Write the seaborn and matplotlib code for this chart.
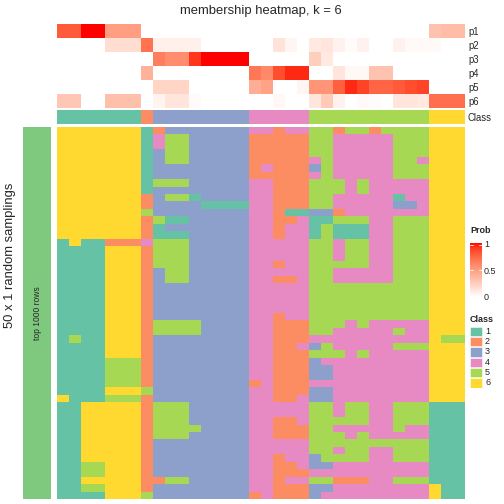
import numpy as np
import pandas as pd
import matplotlib
matplotlib.use("Agg")
import matplotlib.pyplot as plt
import seaborn as sns
from matplotlib.colors import ListedColormap
from matplotlib.patches import Rectangle

sns.set_theme(style="white")
plt.rcParams['font.family'] = ['Liberation Sans', 'DejaVu Sans']

# ---------------- data ----------------
title = "membership heatmap, k = 6"
prob_labels = ["p1", "p2", "p3", "p4", "p5", "p6"]
class_labels = ["1", "2", "3", "4", "5", "6"]
class_colors = ["#66C2A5", "#FC8D62", "#8DA0CB", "#E78AC3", "#A6D854", "#FFD92F"]

p1 = [0.8, 0.8, 1.0, 1.0, 0.5, 0.5, 0.5, 0, 0, 0, 0, 0, 0, 0, 0, 0, 0, 0, 0, 0, 0,
      0, 0, 0, 0, 0, 0, 0, 0, 0, 0, 0.32, 0.35, 0.35]
p2 = [0, 0, 0, 0, 0.18, 0.18, 0.18, 0.7, 0.08, 0.08, 0.08, 0.08, 0, 0, 0, 0, 0, 0, 0.15, 0.05, 0,
      0.12, 0.14, 0.07, 0.02, 0.07, 0, 0, 0.07, 0.03, 0.03, 0.03, 0, 0]
p3 = [0, 0, 0, 0, 0, 0, 0, 0, 0.65, 0.58, 0.58, 0.92, 1.0, 1.0, 1.0, 1.0, 0, 0, 0, 0, 0,
      0.25, 0.12, 0, 0, 0, 0, 0, 0, 0, 0, 0, 0, 0]
p4 = [0, 0, 0, 0, 0, 0, 0, 0.4, 0, 0, 0, 0, 0, 0, 0, 0, 0.68, 0.6, 0.85, 0.95, 0.95,
      0, 0, 0.14, 0.04, 0.04, 0.32, 0.32, 0, 0, 0, 0, 0, 0]
p5 = [0, 0, 0, 0, 0, 0, 0, 0, 0.22, 0.22, 0.22, 0, 0, 0, 0, 0, 0.42, 0.48, 0, 0, 0.05,
      0.55, 0.55, 0.78, 0.95, 0.88, 0.76, 0.76, 0.8, 0.85, 0.88, 0, 0, 0]
p6 = [0.3, 0.3, 0, 0, 0.33, 0.33, 0.33, 0, 0.06, 0.14, 0.14, 0.02, 0, 0, 0, 0, 0, 0, 0.04, 0, 0,
      0.13, 0.28, 0.07, 0, 0.03, 0.02, 0, 0.14, 0.14, 0.12, 0.72, 0.72, 0.72]

column_class = [1, 1, 1, 1, 1, 1, 1, 2, 3, 3, 3, 3, 3, 3, 3, 3, 4, 4, 4, 4, 4,
                5, 5, 5, 5, 5, 5, 5, 5, 5, 5, 6, 6, 6]

sampling_rows = [
    "6666666 1 23333333 44244 5525525555 666",
    "6666666 1 45533333 22222 5544444555 666",
    "6666666 1 45533333 22222 5544444555 666",
    "6666666 1 35533333 22222 5544444555 666",
    "6666666 1 35533333 22222 4544444554 666",
    "6666666 1 33333333 24222 3544444555 666",
    "6666666 1 33333333 22222 4544444555 666",
    "6666666 1 55533333 44222 5554544444 666",
    "6666666 1 33333333 44222 5554544444 666",
    "6666666 2 35513333 44222 5544444144 666",
    "6666666 2 33331111 44222 5544444334 666",
    "6666666 5 33333333 44211 3324444444 666",
    "6666666 2 51133333 44224 1155544555 666",
    "6666666 2 13333333 44244 1511144555 666",
    "6666666 2 11133333 44244 1511144555 666",
    "1611222 4 55533333 44444 5545544555 666",
    "1111666 2 55533333 44444 5545544555 666",
    "1111666 2 55533333 44444 5545544555 666",
    "1111666 2 55533333 44244 5555544555 666",
    "1111666 2 35533333 44444 5544444555 666",
    "1111666 2 35533333 44224 5544444555 666",
    "1111666 2 33333333 44444 5555555555 666",
    "1111666 2 33333333 44444 5555555555 666",
    "1111666 2 33333333 44444 5555555555 666",
    "1111666 2 33333333 44444 5555555555 666",
    "1111666 2 33333333 44244 5555555555 666",
    "1111666 2 55553333 44222 5554544444 666",
    "1111666 2 55553333 44222 5544444544 666",
    "1511666 2 33333333 44222 4444444444 655",
    "1111666 2 33333333 44224 3544444555 666",
    "1111666 2 33333333 44222 5554544444 666",
    "1111555 2 33333333 44222 3444444444 666",
    "1111555 2 33333333 44222 3344444444 666",
    "1111555 2 33333333 44222 3344444444 666",
    "1111555 2 33333333 24222 4444444444 666",
    "1111666 5 33333333 44222 3344444444 666",
    "6111555 2 33333333 44224 3344444444 666",
    "1166666 2 55533333 44444 5545544555 111",
    "1166666 2 55533333 44444 5545544555 111",
    "1166666 2 55533333 44224 5555544555 111",
    "1166666 2 55553333 44222 5544444544 111",
    "1166666 2 55533333 44222 5554544444 111",
    "1166666 2 33333333 44444 5555555555 111",
    "1166666 2 33333333 44444 5545544555 111",
    "1166666 2 33333333 44244 3555544555 111",
    "1155666 2 33333333 44224 3344444444 111",
    "1155666 2 33333333 44222 4444444444 111",
    "1166666 2 25533333 44244 5522244555 111",
    "1155666 2 33333333 44222 3344444444 611",
    "1111666 5 33333333 24222 3444444444 611",
]

# ---------------- colour map white -> red (Lab interpolation) ----------------
_M = np.array([[0.4124, 0.3576, 0.1805], [0.2126, 0.7152, 0.0722], [0.0193, 0.1192, 0.9505]])
_WP = np.array([0.95047, 1.0, 1.08883])

def _srgb_to_lab(rgb):
    c = np.asarray(rgb, float)
    lin = np.where(c <= 0.04045, c / 12.92, ((c + 0.055) / 1.055) ** 2.4)
    xyz = _M @ lin / _WP
    d = 6 / 29
    f = np.where(xyz > d ** 3, np.cbrt(xyz), xyz / (3 * d * d) + 4 / 29)
    return np.array([116 * f[1] - 16, 500 * (f[0] - f[1]), 200 * (f[1] - f[2])])

def _lab_to_srgb(lab):
    L, a, b = lab
    fy = (L + 16) / 116
    f = np.array([fy + a / 500, fy, fy - b / 200])
    d = 6 / 29
    xyz = np.where(f > d, f ** 3, 3 * d * d * (f - 4 / 29)) * _WP
    lin = np.clip(np.linalg.inv(_M) @ xyz, 0, 1)
    c = np.where(lin <= 0.0031308, 12.92 * lin, 1.055 * lin ** (1 / 2.4) - 0.055)
    return np.clip(c, 0, 1)

lab_w = _srgb_to_lab([1, 1, 1])
lab_r = _srgb_to_lab([1, 0, 0])
prob_cmap = ListedColormap([_lab_to_srgb(lab_w + (lab_r - lab_w) * t) for t in np.linspace(0, 1, 256)])
class_cmap = ListedColormap(class_colors)

# ---------------- frames ----------------
prob_df = pd.DataFrame([p1, p2, p3, p4, p5, p6], index=prob_labels)
class_df = pd.DataFrame([column_class], index=["Class"])
mat = np.array([[int(ch) for ch in r.replace(" ", "")] for r in sampling_rows])
main_df = pd.DataFrame(mat)

W = H = 504
fig = plt.figure(figsize=(7, 7), dpi=72)

def px_axes(x0, y0, x1, y1):
    return fig.add_axes([x0 / W, 1 - y1 / H, (x1 - x0) / W, (y1 - y0) / H])

HX0, HX1 = 57, 465

# probability rows
ax_p = px_axes(HX0, 24, HX1, 108)
sns.heatmap(prob_df, ax=ax_p, cmap=prob_cmap, vmin=0, vmax=1, cbar=False,
            xticklabels=False, yticklabels=True)
ax_p.yaxis.tick_right()
ax_p.tick_params(axis="y", length=0, pad=3, labelsize=9.5, rotation=0)

# class row
ax_c = px_axes(HX0, 110, HX1, 124)
sns.heatmap(class_df, ax=ax_c, cmap=class_cmap, vmin=0.5, vmax=6.5, cbar=False,
            xticklabels=False, yticklabels=True)
ax_c.yaxis.tick_right()
ax_c.tick_params(axis="y", length=0, pad=3, labelsize=9.5, rotation=0)

# main matrix
ax_m = px_axes(HX0, 127, HX1, 499)
sns.heatmap(main_df, ax=ax_m, cmap=class_cmap, vmin=0.5, vmax=6.5, cbar=False,
            xticklabels=False, yticklabels=False)

# left annotation bar
ax_l = px_axes(23, 127, 51, 499)
sns.heatmap(pd.DataFrame([[1]]), ax=ax_l, cmap=ListedColormap(["#7FC97F"]), cbar=False,
            xticklabels=False, yticklabels=False)
ax_l.text(0.5, 0.5, "top 1000 rows", rotation=90, ha="center", va="center",
          fontsize=8.5, transform=ax_l.transAxes)

fig.text(10 / W, 1 - 255 / H, "50 x 1 random samplings", rotation=90,
         ha="center", va="center", fontsize=13)
fig.text(261 / W, 1 - 11 / H, title, ha="center", va="center", fontsize=13)

# Prob legend
fig.text(470 / W, 1 - 231 / H, "Prob", ha="left", va="center", fontsize=9, fontweight="bold")
ax_cb = px_axes(470, 243, 482, 297)
ax_cb.imshow(np.linspace(1, 0, 256).reshape(-1, 1), cmap=prob_cmap, aspect="auto",
             extent=[0, 1, 0, 1], vmin=0, vmax=1)
ax_cb.set_xticks([])
ax_cb.set_yticks([0, 0.5, 1])
ax_cb.set_yticklabels(["0", "0.5", "1"])
ax_cb.yaxis.tick_right()
ax_cb.tick_params(axis="y", length=0, pad=2, labelsize=9)
for yv in [0.5, 0.97]:
    ax_cb.plot([0, 0.25], [yv, yv], color="white", lw=0.8)
    ax_cb.plot([0.75, 1], [yv, yv], color="white", lw=0.8)
for s in ax_cb.spines.values():
    s.set_visible(False)

# Class legend
fig.text(470 / W, 1 - 319 / H, "Class", ha="left", va="center", fontsize=9, fontweight="bold")
ax_lg = px_axes(470, 326, 504, 388)
ax_lg.set_xlim(0, 34)
ax_lg.set_ylim(62, 0)
ax_lg.axis("off")
step = 62 / 6
for i, (lab, col) in enumerate(zip(class_labels, class_colors)):
    ax_lg.add_patch(Rectangle((0, i * step + 0.5), 12, step - 1, facecolor=col,
                              edgecolor="white", lw=0.5))
    ax_lg.text(15, i * step + step / 2, lab, ha="left", va="center", fontsize=9)

fig.savefig("out.png", dpi=72)
